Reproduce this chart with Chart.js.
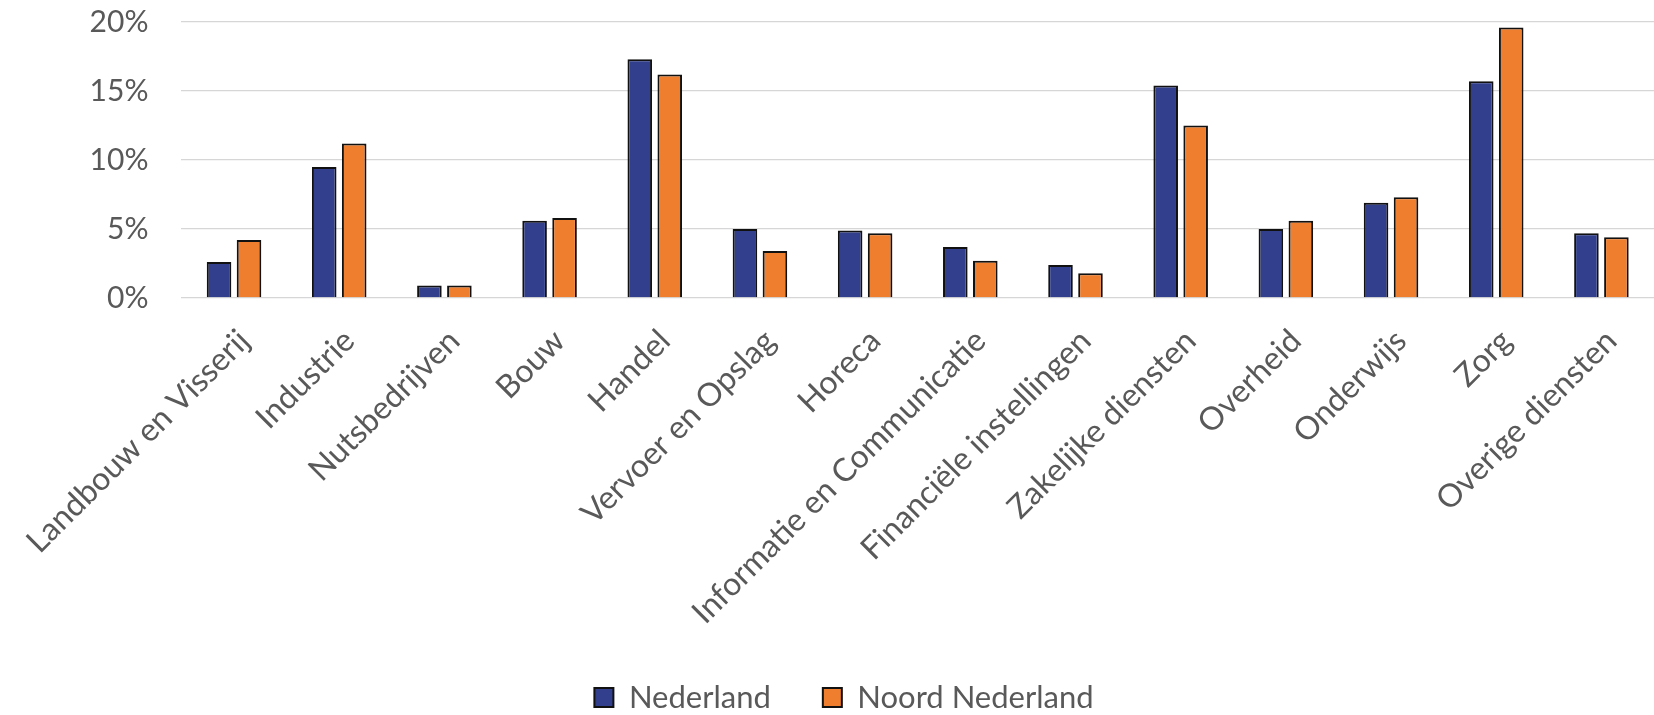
<!DOCTYPE html>
<html>
<head>
<meta charset="utf-8">
<script src="https://cdn.jsdelivr.net/npm/chart.js@4/dist/chart.umd.min.js"></script>
<style>
  body { margin: 0; background: #ffffff; }
  #wrap { width: 1654px; height: 715px; }
</style>
</head>
<body>
<div id="wrap"><canvas id="sectorChart" width="1654" height="715"></canvas></div>
<script>
const sectors = [
  "Landbouw en Visserij", "Industrie", "Nutsbedrijven", "Bouw", "Handel",
  "Vervoer en Opslag", "Horeca", "Informatie en Communicatie",
  "Financiële instellingen", "Zakelijke diensten", "Overheid",
  "Onderwijs", "Zorg", "Overige diensten"
];
const nederland = [2.6, 9.5, 0.9, 5.6, 17.3, 5.0, 4.9, 3.7, 2.4, 15.4, 5.0, 6.9, 15.7, 4.7];
const noordNederland = [4.2, 11.2, 0.9, 5.8, 16.2, 3.4, 4.7, 2.7, 1.8, 12.5, 5.6, 7.3, 19.6, 4.4];
const yTicks = [0, 5, 10, 15, 20];

const textGrey = "#595959";
const fontName = "Lato, 'Open Sans', sans-serif";

const ctx = document.getElementById("sectorChart").getContext("2d");

new Chart(ctx, {
  type: "bar",
  data: {
    labels: sectors,
    datasets: [{
      label: "Nederland",
      data: nederland,
      backgroundColor: "#313f8d",
      borderColor: "#111111",
      borderWidth: 2,
      categoryPercentage: 0.57,
      barPercentage: 0.82
    }, {
      label: "Noord Nederland",
      data: noordNederland,
      backgroundColor: "#ef7e2e",
      borderColor: "#111111",
      borderWidth: 2,
      categoryPercentage: 0.57,
      barPercentage: 0.82
    }]
  },
  options: {
    responsive: false,
    animation: false,
    // left padding pushes the legend centre right, y axis width is trimmed to match
    layout: { padding: { top: 22, right: 0, left: 34, bottom: -8 } },
    plugins: {
      tooltip: { enabled: false },
      legend: {
        position: "bottom",
        labels: {
          color: textGrey,
          font: { family: fontName, size: 31 },
          boxWidth: 19,
          boxHeight: 19,
          padding: 52
        }
      }
    },
    scales: {
      x: {
        grid: { display: false },
        border: { display: false },
        ticks: {
          color: textGrey,
          font: { family: fontName, size: 32 },
          minRotation: 45,
          maxRotation: 45,
          autoSkip: false,
          labelOffset: 10,
          padding: 16
        },
        afterFit: (scale) => { scale.height = 332; }
      },
      y: {
        min: 0,
        max: 20,
        border: { display: false },
        grid: {
          color: "#d6d6d6",
          lineWidth: 1.3,
          drawTicks: true,
          tickLength: 30,
          tickColor: "rgba(0,0,0,0)"
        },
        afterBuildTicks: (scale) => {
          scale.ticks = yTicks.map(v => ({ value: v }));
        },
        ticks: {
          color: textGrey,
          font: { family: fontName, size: 30 },
          padding: 3,
          callback: (v) => v + "%"
        },
        afterFit: (scale) => { scale.width = 146; }
      }
    }
  }
});
</script>
</body>
</html>
